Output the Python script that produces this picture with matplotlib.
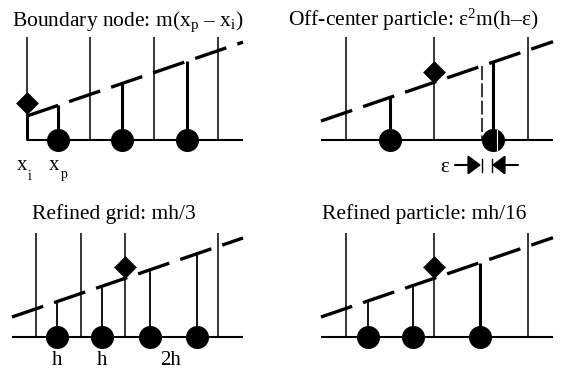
import numpy as np
import matplotlib
matplotlib.use('Agg')
import matplotlib.pyplot as plt

plt.rcParams['font.family'] = ['Liberation Serif', 'DejaVu Serif']
plt.rcParams['mathtext.fontset'] = 'custom'
plt.rcParams['mathtext.rm'] = 'Liberation Serif'
plt.rcParams['mathtext.it'] = 'Liberation Serif:italic'
plt.rcParams['lines.scale_dashes'] = False

# ---- schematic data (figure laid out in pixel units) ----
titles = ['Boundary node: m(x$_\\mathrm{p}$ – x$_\\mathrm{i}$)',
          'Off-center particle: ε$^\\mathrm{2}$m(h–ε)',
          'Refined grid: mh/3',
          'Refined particle: mh/16']
title_x = [12, 288, 32, 322]
title_y = [26, 26, 219, 219]
baseline_y = [140, 140, 337, 337]
axis_x0 = [27, 321, 12, 321]
axis_x1 = [243, 553, 243, 553]
grid_top = [37, 37, 233, 233]
grid_nodes = [[27, 90, 154, 218], [346, 434, 528], [36, 81, 125, 218], [346, 434, 528]]
particles = [[58, 122, 187], [390, 493], [57, 102, 150, 197], [368, 413, 480]]
stem_thick = [[True, True, True], [True, True], [False, False, False, False], [False, False, True]]
line_x0 = [27, 321, 12, 321]
line_y0 = [116, 121, 317, 317]
slope = 0.342
diamond_x = [27, 434, 125, 434]
diamond_y = [103, 72, 267, 267]

boundary_node_x = 27
offcenter_x = 482
eps_arrow_y = 165
spacing_labels = ['h', 'h', '2h']
spacing_label_x = [57, 102, 171]
spacing_label_y = 365

fig = plt.figure(figsize=(5.61, 3.69), dpi=100)
ax = fig.add_axes([0, 0, 1, 1])
ax.set_xlim(0, 561)
ax.set_ylim(369, 0)
ax.axis('off')


def line_y(p, x):
    return line_y0[p] - slope * (x - line_x0[p])


for p in range(4):
    by = baseline_y[p]
    ax.plot([axis_x0[p], axis_x1[p]], [by, by], color='k', lw=1.5, solid_capstyle='butt', zorder=2)
    for gx in grid_nodes[p]:
        ax.plot([gx, gx], [grid_top[p], by], color='k', lw=1.1, solid_capstyle='butt', zorder=2)
    ax.plot([line_x0[p], axis_x1[p]], [line_y0[p], line_y(p, axis_x1[p])], color='k',
            lw=2.4, dashes=(23.7, 8.3), dash_capstyle='butt', zorder=3)
    for px, thick in zip(particles[p], stem_thick[p]):
        ax.plot([px, px], [line_y(p, px), by], color='k', lw=2.2 if thick else 1.3,
                solid_capstyle='butt', zorder=3)
    ax.scatter(particles[p], [by] * len(particles[p]), s=275, color='k', marker='o',
               linewidths=0, zorder=4)
    ax.scatter([diamond_x[p]], [diamond_y[p]], s=135, color='k', marker='D', linewidths=0, zorder=5)
    ax.text(title_x[p], title_y[p], titles[p], fontsize=15.5, ha='left', va='baseline', color='k')

# panel 1: boundary node stem and labels
ax.plot([boundary_node_x, boundary_node_x], [line_y0[0], baseline_y[0]], color='k', lw=2.2,
        solid_capstyle='butt', zorder=3)
ax.text(22, 170, 'x', fontsize=15, ha='center', va='baseline')
ax.text(30, 180, 'i', fontsize=10, ha='center', va='baseline')
ax.text(54, 170, 'x', fontsize=15, ha='center', va='baseline')
ax.text(64, 178, 'p', fontsize=10, ha='center', va='baseline')

# panel 2: off-center marker and epsilon arrows
ax.plot([offcenter_x, offcenter_x], [line_y(1, offcenter_x), baseline_y[1]], color='k', lw=1.1,
        dashes=(10, 2.5), zorder=3)
stem2 = particles[1][1]
ax.plot([stem2 + 4, stem2 + 4], [baseline_y[1] - 10, baseline_y[1] + 10], color='white', lw=0.8, zorder=6)
ax.text(445, eps_arrow_y + 3, 'ε', fontsize=15, ha='center', va='center')
ax.annotate('', xy=(offcenter_x - 1, eps_arrow_y), xytext=(455, eps_arrow_y),
            arrowprops=dict(arrowstyle='-|>,head_length=0.6,head_width=0.45', color='k', lw=1.5,
                            shrinkA=0, shrinkB=0, mutation_scale=13))
ax.annotate('', xy=(stem2 - 1, eps_arrow_y), xytext=(518, eps_arrow_y),
            arrowprops=dict(arrowstyle='-|>,head_length=0.6,head_width=0.45', color='k', lw=1.5,
                            shrinkA=0, shrinkB=0, mutation_scale=13))
for tx in [offcenter_x, stem2 - 1]:
    ax.plot([tx, tx], [eps_arrow_y - 6, eps_arrow_y + 7], color='k', lw=1.0, zorder=3)

# panel 3: spacing labels
for lab, lx in zip(spacing_labels, spacing_label_x):
    ax.text(lx, spacing_label_y, lab, fontsize=15, ha='center', va='baseline')

fig.savefig('out.png', dpi=100)
